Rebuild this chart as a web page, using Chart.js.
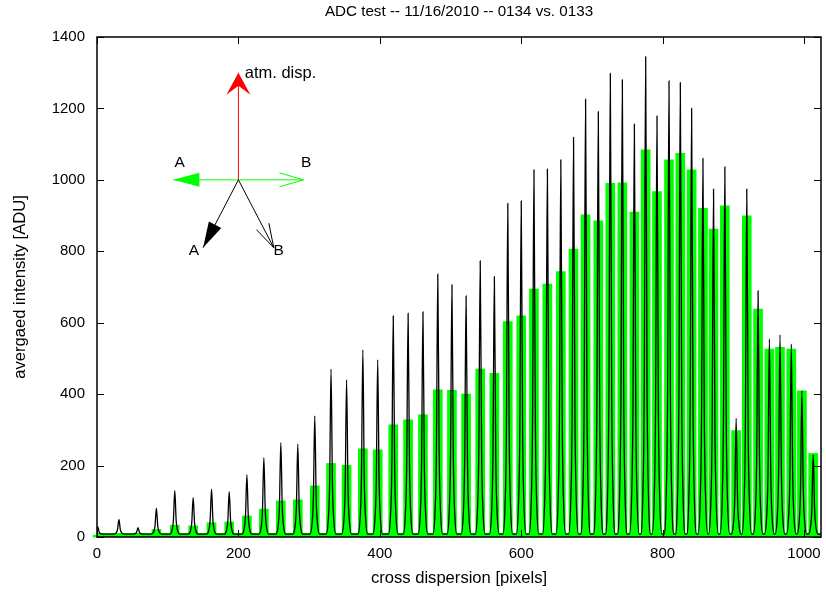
<!DOCTYPE html>
<html>
<head>
<meta charset="utf-8">
<script src="https://cdn.jsdelivr.net/npm/chart.js@4.4.0/dist/chart.umd.min.js"></script>
<style>
  html, body { margin: 0; padding: 0; background: #fff; }
</style>
</head>
<body>
<canvas id="adc" width="826" height="592"></canvas>
<script>
// peak centres, cross dispersion [pixels]
var peakX = [1, 31, 58, 84, 110, 136, 162, 187, 212, 236, 260, 284, 308, 331, 353, 376, 397, 419, 440, 461,
             482, 502, 522, 542, 562, 581, 600, 618, 637, 656, 674, 691, 709, 726, 743, 760, 776, 792, 809, 825,
             841, 857, 872, 888, 904, 919, 935, 951, 966, 982, 997, 1013];
// 0134 - black, peak heights [ADU]
var peak0134 = [29, 49, 26, 81, 130, 111, 134, 127, 174, 222, 264, 260, 339, 470, 440, 524, 496, 619, 626, 630,
                736, 706, 675, 773, 729, 934, 941, 1028, 1030, 1056, 1119, 1226, 1191, 1298, 1280, 1156, 1345, 1179, 1277, 1272,
                1200, 1060, 974, 1036, 332, 974, 689, 554, 566, 540, 409, 230];
// 0133 - green, peak heights [ADU]
var peak0133 = [5, 10, 8, 21, 33, 31, 40, 42, 59, 78, 101, 104, 143, 206, 201, 247, 244, 314, 328, 342,
                412, 411, 400, 470, 458, 603, 619, 694, 708, 743, 806, 902, 885, 990, 992, 910, 1084, 967, 1056, 1074,
                1028, 920, 862, 927, 298, 899, 638, 526, 531, 526, 409, 234];
var baseLevel = 8;   // black trace between orders
// shape of one black order (offset in pixels, fraction of peak)
var profileDx = [-7, -4, -2, 0, 2, 4, 7];
var profileFrac = [0, 0.08, 0.3, 1, 0.3, 0.08, 0];

var xTicks = [0, 200, 400, 600, 800, 1000];
var yTicks = [0, 200, 400, 600, 800, 1000, 1200, 1400];

// the little direction sketch (gnuplot "set arrow"), first-axis coords
var arrowFrom = [200, 1000];
var arrows = [
  {to: [200, 1300], color: '#ff0000', head: 'notch'},
  {to: [108, 1000], color: '#00ff00', head: 'filled'},
  {to: [292, 1000], color: '#00ff00', head: 'open'},
  {to: [150, 810], color: '#000000', head: 'filled'},
  {to: [250, 810], color: '#000000', head: 'open'}
];
var arrowLabels = [
  {text: 'atm. disp.', at: [209, 1299], align: 'left'},
  {text: 'A', at: [117, 1047], align: 'center'},
  {text: 'B', at: [296, 1047], align: 'center'},
  {text: 'A', at: [137, 801], align: 'center'},
  {text: 'B', at: [257, 801], align: 'center'}
];

var FAMILY = '"Liberation Sans", Arial, sans-serif';

function blackTrace() {
  var pts = [];
  for (var i = 0; i < peakX.length; i++) {
    for (var k = 0; k < profileDx.length; k++) {
      pts.push({x: peakX[i] + profileDx[k], y: baseLevel + profileFrac[k] * (peak0134[i] - baseLevel)});
    }
  }
  pts.push({x: 1024, y: baseLevel});
  return pts;
}

function greenBars() {
  return peakX.map(function(x, i) { return {x: x, y: peak0133[i]}; });
}

function drawHead(ctx, x0, y0, x1, y1, type, color) {
  var ang = Math.atan2(y1 - y0, x1 - x0);
  var c = Math.cos(ang), s = Math.sin(ang);
  function pt(back, side) { return [x1 - back * c - side * s, y1 - back * s + side * c]; }
  ctx.fillStyle = color; ctx.strokeStyle = color;
  var a, b, m;
  if (type == 'notch') {
    a = pt(22, 12); b = pt(22, -12); m = pt(13, 0);
    ctx.beginPath(); ctx.moveTo(x1, y1); ctx.lineTo(a[0], a[1]); ctx.lineTo(m[0], m[1]); ctx.lineTo(b[0], b[1]); ctx.closePath(); ctx.fill();
  } else if (type == 'filled') {
    a = pt(26, 7); b = pt(26, -7);
    ctx.beginPath(); ctx.moveTo(x1, y1); ctx.lineTo(a[0], a[1]); ctx.lineTo(b[0], b[1]); ctx.closePath(); ctx.fill();
  } else {
    a = pt(24, 7); b = pt(24, -7);
    ctx.beginPath(); ctx.moveTo(a[0], a[1]); ctx.lineTo(x1, y1); ctx.lineTo(b[0], b[1]); ctx.stroke();
  }
}

var gnuplotFrame = {
  id: 'gnuplotFrame',
  afterDraw: function(chart) {
    var ctx = chart.ctx, a = chart.chartArea;
    var xs = chart.scales.x, ys = chart.scales.y;
    ctx.save();
    // tics pointing inward, mirrored
    ctx.strokeStyle = '#000';
    ctx.lineWidth = 1;
    ctx.beginPath();
    xTicks.forEach(function(v) {
      var px = Math.round(xs.getPixelForValue(v)) + 0.5;
      ctx.moveTo(px, a.bottom); ctx.lineTo(px, a.bottom - 7);
      ctx.moveTo(px, a.top); ctx.lineTo(px, a.top + 7);
    });
    yTicks.forEach(function(v) {
      var py = Math.round(ys.getPixelForValue(v)) + 0.5;
      ctx.moveTo(a.left, py); ctx.lineTo(a.left + 7, py);
      ctx.moveTo(a.right, py); ctx.lineTo(a.right - 7, py);
    });
    ctx.stroke();
    ctx.lineWidth = 1.5;
    ctx.strokeRect(a.left, a.top, a.right - a.left, a.bottom - a.top);

    // arrows
    var fx = xs.getPixelForValue(arrowFrom[0]), fy = ys.getPixelForValue(arrowFrom[1]);
    arrows.forEach(function(ar) {
      var tx = xs.getPixelForValue(ar.to[0]), ty = ys.getPixelForValue(ar.to[1]);
      ctx.lineWidth = 1;
      ctx.strokeStyle = ar.color;
      ctx.beginPath(); ctx.moveTo(fx, fy); ctx.lineTo(tx, ty); ctx.stroke();
      drawHead(ctx, fx, fy, tx, ty, ar.head, ar.color);
    });
    ctx.fillStyle = '#000';
    ctx.textBaseline = 'middle';
    arrowLabels.forEach(function(l) {
      ctx.font = (l.align == 'left' ? '16.5px ' : '15.5px ') + FAMILY;
      ctx.textAlign = l.align;
      ctx.fillText(l.text, xs.getPixelForValue(l.at[0]), ys.getPixelForValue(l.at[1]));
    });

    // title and axis labels
    var cx = (a.left + a.right) / 2;
    ctx.textAlign = 'center';
    ctx.font = '15.2px ' + FAMILY;
    ctx.fillText('ADC test -- 11/16/2010 -- 0134 vs. 0133', cx, 12);
    ctx.font = '16.6px ' + FAMILY;
    ctx.fillText('cross dispersion [pixels]', cx, 578);
    ctx.translate(20, (a.top + a.bottom) / 2);
    ctx.rotate(-Math.PI / 2);
    ctx.fillText('avergaed intensity [ADU]', 0, 0);
    ctx.restore();
  }
};

var chart = new Chart(document.getElementById('adc'), {
  data: {
    datasets: [
      {type: 'line', label: '0134', data: blackTrace(), borderColor: '#000000', borderWidth: 1.3,
       pointRadius: 0, cubicInterpolationMode: 'monotone', clip: 0, order: 0},
      {type: 'bar', label: '0133', data: greenBars(), backgroundColor: '#00ff00', borderWidth: 0,
       barThickness: 9, clip: false, order: 1},
      {type: 'line', label: 'base', data: [{x: 0, y: 0}, {x: 1024, y: 0}], borderColor: '#00ff00', borderWidth: 8,
       pointRadius: 0, clip: 0, order: 2}
    ]
  },
  options: {
    responsive: false,
    animation: false,
    devicePixelRatio: 1,
    events: [],
    layout: {padding: {top: 37, right: 5, left: 0, bottom: 0}},
    plugins: {legend: {display: false}, tooltip: {enabled: false}, title: {display: false}},
    scales: {
      x: {
        type: 'linear', min: 0, max: 1024, offset: false,
        grid: {display: false, drawTicks: false},
        border: {display: false},
        afterBuildTicks: function(s) { s.ticks = xTicks.map(function(v) { return {value: v}; }); },
        ticks: {autoSkip: false, maxRotation: 0, padding: 8,
                color: '#000', font: {family: FAMILY, size: 15},
                callback: function(v) { return String(v); }},
        afterFit: function(s) { s.height = 55; s.paddingLeft = 0; s.paddingRight = 0; }
      },
      y: {
        type: 'linear', min: 0, max: 1400,
        grid: {display: false, drawTicks: false},
        border: {display: false},
        afterBuildTicks: function(s) { s.ticks = yTicks.map(function(v) { return {value: v}; }); },
        ticks: {padding: 12, color: '#000',
                font: {family: FAMILY, size: 15},
                callback: function(v) { return String(v); }},
        afterFit: function(s) { s.width = 97; s.paddingTop = 0; s.paddingBottom = 0; }
      }
    }
  },
  plugins: [gnuplotFrame]
});
</script>
</body>
</html>
